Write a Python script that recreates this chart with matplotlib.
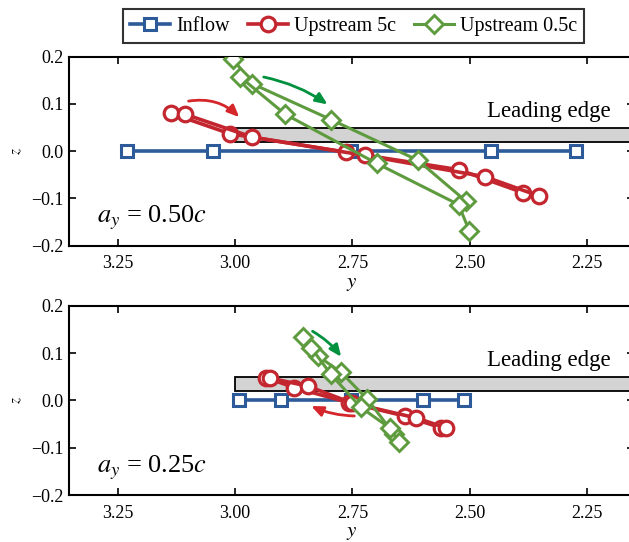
import matplotlib
matplotlib.use("Agg")
import matplotlib.pyplot as plt
from matplotlib.patches import Rectangle

plt.rcParams["font.family"] = ["Liberation Serif", "DejaVu Serif"]
plt.rcParams["mathtext.fontset"] = "stix"
plt.rcParams["axes.unicode_minus"] = True

# ---- data: spanwise position y and vertical position z of the vortex core ----
# a_y = 0.50c
inflow_top_y = [3.230, 3.046, 2.753, 2.455, 2.274]
inflow_top_z = [0.0, 0.0, 0.0, 0.0, 0.0]

up5_top_y = [[3.136, 3.011, 2.764, 2.524, 2.386],
             [3.106, 2.964, 2.723, 2.468, 2.352]]
up5_top_z = [[0.080, 0.037, -0.002, -0.039, -0.088],
             [0.078, 0.030, -0.009, -0.054, -0.095]]

up05_top_y = [[3.005, 2.964, 2.796, 2.611, 2.508],
              [2.989, 2.893, 2.698, 2.524, 2.501]]
up05_top_z = [[0.196, 0.143, 0.067, -0.019, -0.106],
              [0.157, 0.078, -0.026, -0.113, -0.169]]

# a_y = 0.25c
inflow_bot_y = [2.991, 2.902, 2.753, 2.600, 2.512]
inflow_bot_z = [0.0, 0.0, 0.0, 0.0, 0.0]

up5_bot_y = [[2.934, 2.874, 2.757, 2.639, 2.561],
             [2.925, 2.845, 2.750, 2.615, 2.551]]
up5_bot_z = [[0.048, 0.027, -0.005, -0.033, -0.058],
             [0.047, 0.030, -0.006, -0.037, -0.058]]

up05_bot_y = [[2.856, 2.824, 2.774, 2.718, 2.661],
              [2.838, 2.796, 2.732, 2.671, 2.650]]
up05_bot_z = [[0.133, 0.094, 0.059, 0.002, -0.072],
              [0.111, 0.055, -0.015, -0.058, -0.089]]

panel_labels = [r"$a_y$ = 0.50$c$", r"$a_y$ = 0.25$c$"]
series_names = ["Inflow", "Upstream 5c", "Upstream 0.5c"]

# wing leading edge: starts at y = 3.0, occupies 0.02 < z < 0.05
edge_y0 = 3.0
edge_z0, edge_z1 = 0.02, 0.05

# direction arrows ((y0, z0), (y1, z1), curvature)
arrows_top = [((3.099, 0.106), (2.991, 0.072), -0.25, "red"),
              ((2.939, 0.157), (2.803, 0.099), -0.1, "green")]
arrows_bot = [((2.746, -0.033), (2.838, -0.012), -0.1, "red"),
              ((2.835, 0.146), (2.774, 0.092), -0.1, "green")]

xticks = [3.25, 3.00, 2.75, 2.50, 2.25]
yticks = [0.2, 0.1, 0.0, -0.1, -0.2]

c_blue = "#2d5a98"
c_red = "#c3262e"
c_green = "#5e9b3e"
arrow_col = {"red": "#d5262b", "green": "#00913f"}

W, H = 629, 542
fig = plt.figure(figsize=(W / 100, H / 100), dpi=100)

left = 69.3 / W
x_lo, x_hi = 3.353, 2.15
width = (x_lo - x_hi) * 469.6 / W
ax_top = fig.add_axes([left, 1 - 245.7 / H, width, (245.7 - 56.7) / H])
ax_bot = fig.add_axes([left, 1 - 495.0 / H, width, (495.0 - 305.7) / H])


def draw_panel(ax, inf_y, inf_z, u5_y, u5_z, u05_y, u05_z, label, arrows):
    ax.add_patch(Rectangle((edge_y0, edge_z0), -2.0, edge_z1 - edge_z0,
                           facecolor="#d3d3d3", edgecolor="black", lw=1.3, zorder=1))
    h1, = ax.plot(inf_y, inf_z, color=c_blue, lw=2.6, marker="s", ms=8,
                  mfc="white", mec=c_blue, mew=2.2, zorder=3)
    h2 = None
    for yy, zz in zip(u5_y, u5_z):
        h2, = ax.plot(yy, zz, color=c_red, lw=2.6, marker="o", ms=10.5,
                      mfc="white", mec=c_red, mew=2.3, zorder=4)
    h3 = None
    for yy, zz in zip(u05_y, u05_z):
        h3, = ax.plot(yy, zz, color=c_green, lw=2.2, marker="D", ms=9,
                      mfc="white", mec=c_green, mew=2.1, zorder=5)
    for (p0, p1, rad, col) in arrows:
        ax.annotate("", xy=p1, xytext=p0,
                    arrowprops=dict(arrowstyle="-|>,head_length=0.7,head_width=0.3",
                                    color=arrow_col[col], lw=2.0,
                                    shrinkA=0, shrinkB=0,
                                    connectionstyle=f"arc3,rad={rad}"),
                    zorder=6)
    ax.text(2.463, 0.084, "Leading edge", fontsize=16.5, ha="left", va="center")
    ax.text(3.293, -0.142, label, fontsize=19, ha="left", va="center")

    ax.set_xlim(x_lo, x_hi)
    ax.set_ylim(-0.2, 0.2)
    ax.set_xticks(xticks)
    ax.set_xticklabels([f"{v:.2f}" for v in xticks])
    ax.set_yticks(yticks)
    ax.set_yticklabels([f"{v:.1f}".replace("-", "\u2212") for v in yticks])
    ax.tick_params(direction="in", length=5, width=1.2, labelsize=13,
                   top=True, right=True)
    ax.tick_params(axis="x", pad=7)
    ax.tick_params(axis="y", pad=4)
    for s in ax.spines.values():
        s.set_linewidth(1.5)
    ax.set_xlabel("$y$", fontsize=15, labelpad=1)
    ax.set_ylabel("$z$", fontsize=11, labelpad=5)
    return h1, h2, h3


handles = draw_panel(ax_top, inflow_top_y, inflow_top_z, up5_top_y, up5_top_z,
                     up05_top_y, up05_top_z, panel_labels[0], arrows_top)
draw_panel(ax_bot, inflow_bot_y, inflow_bot_z, up5_bot_y, up5_bot_z,
           up05_bot_y, up05_bot_z, panel_labels[1], arrows_bot)

leg = fig.legend(handles, series_names, loc="center", bbox_to_anchor=(0.562, 0.952),
                 ncol=3, fontsize=14.5, frameon=True, fancybox=False,
                 edgecolor="black", handlelength=2.0, handletextpad=0.3,
                 columnspacing=0.9, borderpad=0.35, borderaxespad=0)
leg.get_frame().set_linewidth(1.5)

fig.savefig("out.png", dpi=100)
